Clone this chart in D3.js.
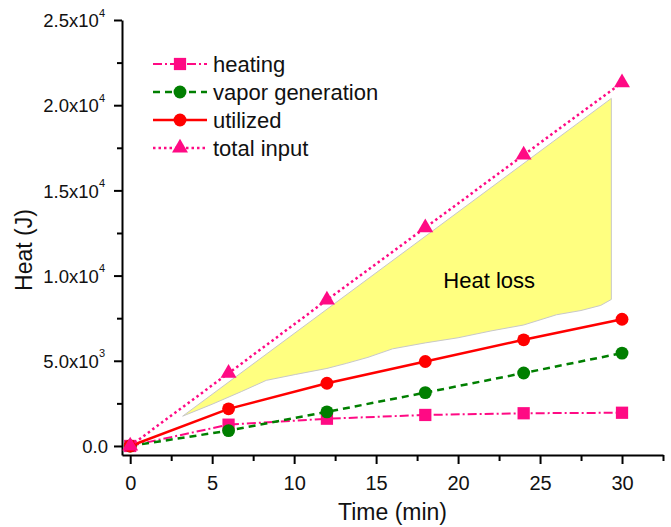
<!DOCTYPE html>
<html>
<head>
<meta charset="utf-8">
<script src="https://cdn.jsdelivr.net/npm/d3@7"></script>
<style>
  body { margin: 0; background: #fff; }
  svg { font-family: "Liberation Sans", Arial, sans-serif; }
</style>
</head>
<body>
<div id="chart"></div>
<script>
// data
const timeMin = [0, 6, 12, 18, 24, 30];
const heating = [0, 1250, 1600, 1820, 1920, 1950];
const vapor = [0, 900, 2000, 3130, 4280, 5450];
const utilized = [0, 2180, 3680, 4960, 6230, 7440];
const totalInput = [0, 4270, 8570, 12810, 17080, 21320];

// hand drawn "heat loss" region (time, heat)
const lossTime = [3.2, 29.35, 29.35, 28.7, 27.5, 26, 24, 22, 20, 18, 16, 14.5, 13.2, 12, 10.1, 8.3, 6.8, 5, 3.2];
const lossHeat = [1750, 20400, 8600, 8250, 7950, 7700, 7100, 6750, 6350, 6050, 5700, 5200, 4850, 4550, 4200, 3850, 3200, 2450, 1750];

const xTicks = [0, 5, 10, 15, 20, 25, 30];
const xMinor = [2.5, 7.5, 12.5, 17.5, 22.5, 27.5, 32.5];
const yTicks = [0, 5000, 10000, 15000, 20000, 25000];
const yMinor = [2500, 7500, 12500, 17500, 22500];
const yMantissa = ["0.0", "5.0", "1.0", "1.5", "2.0", "2.5"];
const yExponent = ["", "3", "4", "4", "4", "4"];

const seriesNames = ["heating", "vapor generation", "utilized", "total input"];

const width = 671, height = 527;
const marginLeft = 122, marginRight = 8, marginTop = 20, marginBottom = 72;

const x = d3.scaleLinear([-0.5, 32.5], [marginLeft, width - marginRight]);
const y = d3.scaleLinear([-530, 25000], [height - marginBottom, marginTop]);

const series = [
  {name: seriesNames[0], values: heating, color: "#ff0a84", dash: "9,3,2,3", width: 2, symbol: d3.symbolSquare, size: 150},
  {name: seriesNames[1], values: vapor, color: "#007f00", dash: "7,5", width: 2.5, symbol: d3.symbolCircle, size: 130},
  {name: seriesNames[2], values: utilized, color: "#ff0000", dash: null, width: 2.5, symbol: d3.symbolCircle, size: 130},
  {name: seriesNames[3], values: totalInput, color: "#ff0a84", dash: "2.5,3", width: 2.5, symbol: d3.symbolTriangle, size: 110}
];

const svg = d3.select("#chart").append("svg")
    .attr("width", width)
    .attr("height", height)
    .attr("viewBox", [0, 0, width, height]);

// heat loss area
svg.append("path")
    .datum(d3.range(lossTime.length))
    .attr("fill", "#ffff80")
    .attr("stroke", "#c8c8c8")
    .attr("stroke-width", 1)
    .attr("d", d3.line(i => x(lossTime[i]), i => y(lossHeat[i])));

svg.append("text")
    .attr("x", x(21.9))
    .attr("y", y(9300))
    .attr("text-anchor", "middle")
    .attr("font-size", 22)
    .attr("fill", "#000")
    .text("Heat loss");

// axes
const xAxisY = height - marginBottom;
svg.append("g")
    .attr("transform", `translate(0,${xAxisY})`)
    .call(d3.axisBottom(x).tickValues(xTicks).tickSize(9).tickSizeOuter(0))
    .call(g => g.select(".domain").attr("stroke-width", 2))
    .call(g => g.selectAll(".tick line").attr("stroke-width", 2))
    .call(g => g.selectAll(".tick text").attr("font-size", 20).attr("dy", "1.15em").attr("fill", "#111"));

svg.append("g")
    .attr("transform", `translate(0,${xAxisY})`)
    .call(d3.axisBottom(x).tickValues(xMinor).tickSize(6).tickFormat(""))
    .call(g => g.select(".domain").remove())
    .call(g => g.selectAll(".tick line").attr("stroke-width", 2));

const yAxis = svg.append("g")
    .attr("transform", `translate(${marginLeft},0)`)
    .call(d3.axisLeft(y).tickValues(yTicks).tickSize(8).tickSizeOuter(0).tickFormat(""))
    .call(g => g.select(".domain").attr("stroke-width", 2))
    .call(g => g.selectAll(".tick line").attr("stroke-width", 2));

yAxis.selectAll(".tick").each(function(d, i) {
  const t = d3.select(this).append("text")
      .attr("x", -17)
      .attr("dy", "0.36em")
      .attr("text-anchor", "end")
      .attr("fill", "#111")
      .attr("font-size", 18.5);
  if (yExponent[i]) {
    t.append("tspan").text(yMantissa[i] + "x10");
    t.append("tspan").attr("font-size", 11).attr("dy", "-0.95em").text(yExponent[i]);
  } else {
    t.attr("x", -14).text(yMantissa[i]);
  }
});

svg.append("g")
    .attr("transform", `translate(${marginLeft},0)`)
    .call(d3.axisLeft(y).tickValues(yMinor).tickSize(5).tickFormat(""))
    .call(g => g.select(".domain").remove())
    .call(g => g.selectAll(".tick line").attr("stroke-width", 2));

// axis titles
svg.append("text")
    .attr("x", (marginLeft + width - marginRight) / 2)
    .attr("y", 520)
    .attr("text-anchor", "middle")
    .attr("font-size", 23)
    .attr("fill", "#111")
    .text("Time (min)");

svg.append("text")
    .attr("transform", `translate(32,250) rotate(-90)`)
    .attr("text-anchor", "middle")
    .attr("font-size", 23)
    .attr("fill", "#111")
    .text("Heat (J)");

// series
const line = d3.line().x(d => x(d[0])).y(d => y(d[1]));
for (const s of series) {
  const pts = timeMin.map((t, i) => [t, s.values[i]]);
  svg.append("path")
      .datum(pts)
      .attr("fill", "none")
      .attr("stroke", s.color)
      .attr("stroke-width", s.width)
      .attr("stroke-dasharray", s.dash)
      .attr("d", line);
  svg.append("g")
    .selectAll("path")
    .data(pts)
    .join("path")
      .attr("transform", d => `translate(${x(d[0])},${y(d[1])})`)
      .attr("fill", s.color)
      .attr("d", d3.symbol(s.symbol, s.size));
}

// legend
const legend = svg.append("g").attr("transform", "translate(153,64)");
series.forEach((s, i) => {
  const g = legend.append("g").attr("transform", `translate(0,${i * 28})`);
  g.append("line")
      .attr("x1", 0).attr("x2", 54)
      .attr("stroke", s.color)
      .attr("stroke-width", s.width)
      .attr("stroke-dasharray", s.dash);
  g.append("path")
      .attr("transform", "translate(27,0)")
      .attr("fill", s.color)
      .attr("d", d3.symbol(s.symbol, s.size));
  g.append("text")
      .attr("x", 60)
      .attr("dy", "0.35em")
      .attr("font-size", 22)
      .attr("fill", "#111")
      .text(s.name);
});
</script>
</body>
</html>
